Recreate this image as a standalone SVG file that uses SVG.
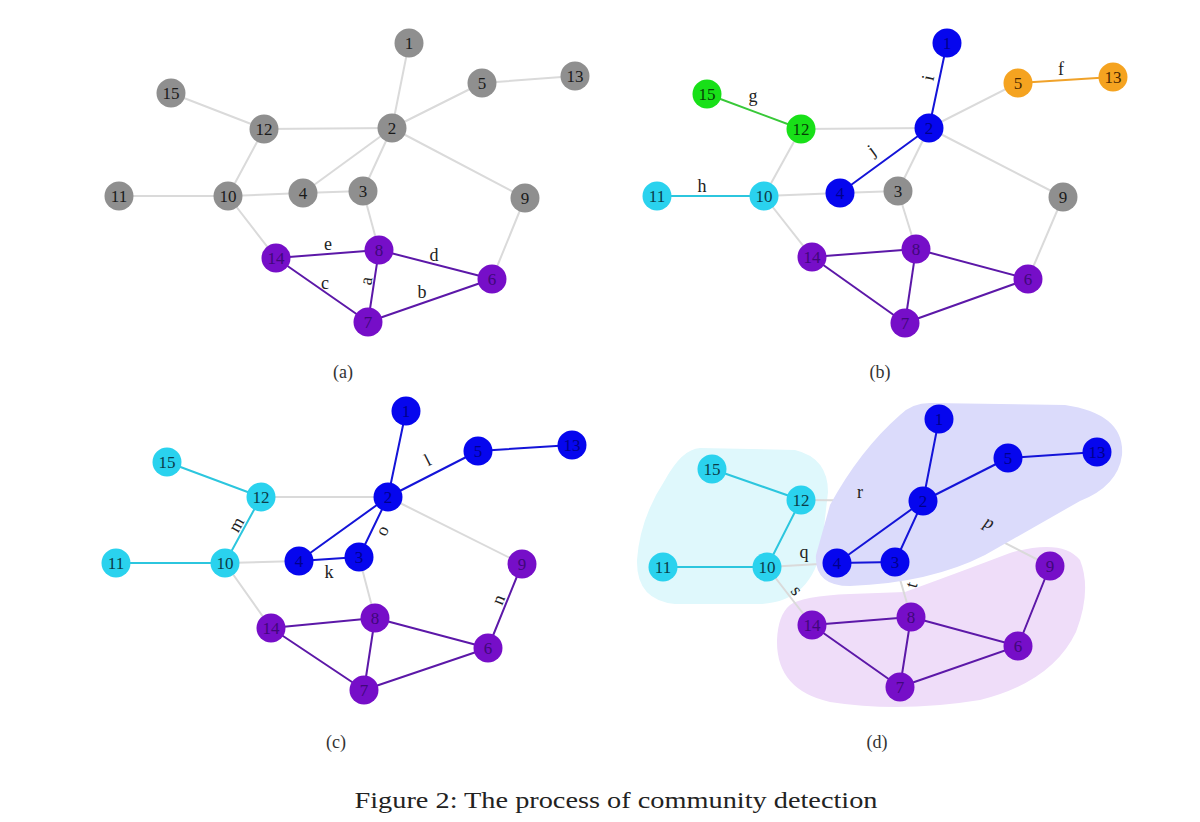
<svg xmlns="http://www.w3.org/2000/svg" width="1200" height="822" viewBox="0 0 1200 822">
<style>
text{font-family:"Liberation Serif","DejaVu Serif",serif}
.e{stroke-width:2;fill:none;stroke-linecap:round}
.gr{stroke:#dadada}
.pu{stroke:#5c18a8}
.bl{stroke:#1414d8}
.cy{stroke:#2cc6de}
.gn{stroke:#38c838}
.or{stroke:#f0a22a}
.n circle{stroke:none}
.n text{font-size:17px;text-anchor:middle}
.g circle{fill:#8f8f8f}.g text{fill:#1a1a1a}
.p circle{fill:#760ec8}.p text{fill:#40087a}
.b circle{fill:#0606ee}.b text{fill:#00008c}
.c circle{fill:#2ad2ee}.c text{fill:#0b3d4a}
.G circle{fill:#18e018}.G text{fill:#064006}
.o circle{fill:#f5a320}.o text{fill:#4a2800}
.lb{font-size:18px;fill:#222;text-anchor:middle}
.cap{font-size:18px;fill:#333;text-anchor:middle}
</style>

<g id="hulls">
<path id="hull-cyan" d="M700,448 L795,450 Q828,458 828,492 L822,545 Q812,602 760,604 L675,604 Q636,600 637,560 Q640,518 665,480 Q682,449 700,448 Z" fill="#dff8fc"/>
<path id="hull-purple" d="M790,605 Q802,596 850,594 L905,592 Q960,572 1010,553 Q1062,538 1080,560 Q1092,590 1076,632 Q1052,682 980,700 Q900,713 830,702 Q776,690 777,640 Q778,615 790,605 Z" fill="#efddf9"/>
</g>

<g id="connectors-a">
<line class="e gr" x1="409" y1="43" x2="392" y2="128"/>
<line class="e gr" x1="392" y1="128" x2="482" y2="83"/>
<line class="e gr" x1="482" y1="83" x2="575" y2="76"/>
<line class="e gr" x1="171" y1="93" x2="264" y2="129"/>
<line class="e gr" x1="264" y1="129" x2="392" y2="128"/>
<line class="e gr" x1="264" y1="129" x2="228" y2="196"/>
<line class="e gr" x1="119" y1="196" x2="228" y2="196"/>
<line class="e gr" x1="228" y1="196" x2="303" y2="193"/>
<line class="e gr" x1="303" y1="193" x2="392" y2="128"/>
<line class="e gr" x1="303" y1="193" x2="363" y2="191"/>
<line class="e gr" x1="363" y1="191" x2="392" y2="128"/>
<line class="e gr" x1="392" y1="128" x2="525" y2="198"/>
<line class="e gr" x1="363" y1="191" x2="379" y2="250"/>
<line class="e gr" x1="228" y1="196" x2="276" y2="258"/>
<line class="e gr" x1="525" y1="198" x2="492" y2="279"/>
<line class="e pu" x1="276" y1="258" x2="379" y2="250"/>
<line class="e pu" x1="379" y1="250" x2="492" y2="279"/>
<line class="e pu" x1="492" y1="279" x2="368" y2="322"/>
<line class="e pu" x1="368" y1="322" x2="379" y2="250"/>
<line class="e pu" x1="276" y1="258" x2="368" y2="322"/>
<text class="lb" x="328" y="250">e</text>
<text class="lb" x="434" y="261">d</text>
<text class="lb" x="325" y="289">c</text>
<text class="lb" x="422" y="298">b</text>
<text class="lb" transform="translate(367,281) rotate(-81)" y="5">a</text>
</g>

<g id="connectors-b">
<line class="e gr" x1="929" y1="128" x2="1018" y2="83"/>
<line class="e gr" x1="801" y1="129" x2="929" y2="128"/>
<line class="e gr" x1="801" y1="129" x2="764" y2="196"/>
<line class="e gr" x1="764" y1="196" x2="840" y2="193"/>
<line class="e gr" x1="840" y1="193" x2="898" y2="191"/>
<line class="e gr" x1="898" y1="191" x2="929" y2="128"/>
<line class="e gr" x1="929" y1="128" x2="1063" y2="197"/>
<line class="e gr" x1="898" y1="191" x2="916" y2="249"/>
<line class="e gr" x1="764" y1="196" x2="812" y2="257"/>
<line class="e gr" x1="1063" y1="197" x2="1028" y2="279"/>
<line class="e bl" x1="947" y1="43" x2="929" y2="128"/>
<line class="e bl" x1="840" y1="193" x2="929" y2="128"/>
<line class="e gn" x1="707" y1="94" x2="801" y2="129"/>
<line class="e cy" x1="657" y1="196" x2="764" y2="196"/>
<line class="e or" x1="1018" y1="83" x2="1113" y2="77"/>
<line class="e pu" x1="812" y1="257" x2="916" y2="249"/>
<line class="e pu" x1="916" y1="249" x2="1028" y2="279"/>
<line class="e pu" x1="1028" y1="279" x2="905" y2="323"/>
<line class="e pu" x1="905" y1="323" x2="916" y2="249"/>
<line class="e pu" x1="812" y1="257" x2="905" y2="323"/>
<text class="lb" x="753" y="102">g</text>
<text class="lb" x="702" y="192">h</text>
<text class="lb" x="1061" y="75">f</text>
<text class="lb" transform="translate(872,151) rotate(-36)" y="5">j</text>
<text class="lb" transform="translate(929,78) rotate(-78)" y="5">i</text>
</g>

<g id="connectors-c">
<line class="e gr" x1="261" y1="497" x2="388" y2="497"/>
<line class="e gr" x1="225" y1="563" x2="299" y2="561"/>
<line class="e gr" x1="388" y1="497" x2="522" y2="564"/>
<line class="e gr" x1="359" y1="557" x2="375" y2="618"/>
<line class="e gr" x1="225" y1="563" x2="271" y2="628"/>
<line class="e bl" x1="406" y1="411" x2="388" y2="497"/>
<line class="e bl" x1="388" y1="497" x2="478" y2="451"/>
<line class="e bl" x1="478" y1="451" x2="572" y2="445"/>
<line class="e bl" x1="299" y1="561" x2="388" y2="497"/>
<line class="e bl" x1="299" y1="561" x2="359" y2="557"/>
<line class="e bl" x1="359" y1="557" x2="388" y2="497"/>
<line class="e cy" x1="167" y1="462" x2="261" y2="497"/>
<line class="e cy" x1="261" y1="497" x2="225" y2="563"/>
<line class="e cy" x1="116" y1="563" x2="225" y2="563"/>
<line class="e pu" x1="522" y1="564" x2="488" y2="648"/>
<line class="e pu" x1="271" y1="628" x2="375" y2="618"/>
<line class="e pu" x1="375" y1="618" x2="488" y2="648"/>
<line class="e pu" x1="488" y1="648" x2="364" y2="690"/>
<line class="e pu" x1="364" y1="690" x2="375" y2="618"/>
<line class="e pu" x1="271" y1="628" x2="364" y2="690"/>
<text class="lb" x="329" y="578">k</text>
<text class="lb" transform="translate(237,525) rotate(-61)" y="5">m</text>
<text class="lb" transform="translate(428,461) rotate(-27)" y="5">l</text>
<text class="lb" transform="translate(383,531) rotate(-64)" y="5">o</text>
<text class="lb" transform="translate(499,600) rotate(-68)" y="5">n</text>
</g>

<g id="connectors-d">
<line class="e gr" x1="801" y1="500" x2="923" y2="501"/>
<line class="e gr" x1="767" y1="567" x2="837" y2="563"/>
<line class="e gr" x1="895" y1="562" x2="911" y2="617"/>
<line class="e gr" x1="767" y1="567" x2="812" y2="625"/>
<line class="e gr" x1="923" y1="501" x2="1050" y2="566"/>
</g>

<path id="hull-blue" d="M930,403 L1065,405 Q1125,414 1122,455 Q1118,486 1080,501 L985,555 Q930,583 850,586 Q814,586 816,555 L830,505 Q860,450 900,415 Q912,403 930,403 Z" fill="#dbdbfb"/>

<g id="connectors-d2">
<line class="e bl" x1="939" y1="419" x2="923" y2="501"/>
<line class="e bl" x1="923" y1="501" x2="1008" y2="458"/>
<line class="e bl" x1="1008" y1="458" x2="1097" y2="452"/>
<line class="e bl" x1="837" y1="563" x2="923" y2="501"/>
<line class="e bl" x1="837" y1="563" x2="895" y2="562"/>
<line class="e bl" x1="895" y1="562" x2="923" y2="501"/>
<line class="e cy" x1="712" y1="469" x2="801" y2="500"/>
<line class="e cy" x1="801" y1="500" x2="767" y2="567"/>
<line class="e cy" x1="663" y1="567" x2="767" y2="567"/>
<line class="e pu" x1="1050" y1="566" x2="1018" y2="646"/>
<line class="e pu" x1="812" y1="625" x2="911" y2="617"/>
<line class="e pu" x1="911" y1="617" x2="1018" y2="646"/>
<line class="e pu" x1="1018" y1="646" x2="900" y2="687"/>
<line class="e pu" x1="900" y1="687" x2="911" y2="617"/>
<line class="e pu" x1="812" y1="625" x2="900" y2="687"/>
<text class="lb" x="860" y="498">r</text>
<text class="lb" x="804" y="558">q</text>
<text class="lb" transform="translate(796,591) rotate(52)" y="5">s</text>
<text class="lb" transform="translate(912,585) rotate(-75)" y="5">t</text>
<text class="lb" transform="translate(989,523) rotate(25)" y="5" font-style="italic">p</text>
</g>

<g id="a-n1" class="n g"><circle cx="409" cy="43" r="14.5"/><text x="409" y="49">1</text></g>
<g id="a-n2" class="n g"><circle cx="392" cy="128" r="14.5"/><text x="392" y="134">2</text></g>
<g id="a-n5" class="n g"><circle cx="482" cy="83" r="14.5"/><text x="482" y="89">5</text></g>
<g id="a-n13" class="n g"><circle cx="575" cy="76" r="14.5"/><text x="575" y="82">13</text></g>
<g id="a-n15" class="n g"><circle cx="171" cy="93" r="14.5"/><text x="171" y="99">15</text></g>
<g id="a-n12" class="n g"><circle cx="264" cy="129" r="14.5"/><text x="264" y="135">12</text></g>
<g id="a-n11" class="n g"><circle cx="119" cy="196" r="14.5"/><text x="119" y="202">11</text></g>
<g id="a-n10" class="n g"><circle cx="228" cy="196" r="14.5"/><text x="228" y="202">10</text></g>
<g id="a-n4" class="n g"><circle cx="303" cy="193" r="14.5"/><text x="303" y="199">4</text></g>
<g id="a-n3" class="n g"><circle cx="363" cy="191" r="14.5"/><text x="363" y="197">3</text></g>
<g id="a-n9" class="n g"><circle cx="525" cy="198" r="14.5"/><text x="525" y="204">9</text></g>
<g id="a-n14" class="n p"><circle cx="276" cy="258" r="14.5"/><text x="276" y="264">14</text></g>
<g id="a-n8" class="n p"><circle cx="379" cy="250" r="14.5"/><text x="379" y="256">8</text></g>
<g id="a-n6" class="n p"><circle cx="492" cy="279" r="14.5"/><text x="492" y="285">6</text></g>
<g id="a-n7" class="n p"><circle cx="368" cy="322" r="14.5"/><text x="368" y="328">7</text></g>

<g id="b-n1" class="n b"><circle cx="947" cy="43" r="14.5"/><text x="947" y="49">1</text></g>
<g id="b-n2" class="n b"><circle cx="929" cy="128" r="14.5"/><text x="929" y="134">2</text></g>
<g id="b-n5" class="n o"><circle cx="1018" cy="83" r="14.5"/><text x="1018" y="89">5</text></g>
<g id="b-n13" class="n o"><circle cx="1113" cy="77" r="14.5"/><text x="1113" y="83">13</text></g>
<g id="b-n15" class="n G"><circle cx="707" cy="94" r="14.5"/><text x="707" y="100">15</text></g>
<g id="b-n12" class="n G"><circle cx="801" cy="129" r="14.5"/><text x="801" y="135">12</text></g>
<g id="b-n11" class="n c"><circle cx="657" cy="196" r="14.5"/><text x="657" y="202">11</text></g>
<g id="b-n10" class="n c"><circle cx="764" cy="196" r="14.5"/><text x="764" y="202">10</text></g>
<g id="b-n4" class="n b"><circle cx="840" cy="193" r="14.5"/><text x="840" y="199">4</text></g>
<g id="b-n3" class="n g"><circle cx="898" cy="191" r="14.5"/><text x="898" y="197">3</text></g>
<g id="b-n9" class="n g"><circle cx="1063" cy="197" r="14.5"/><text x="1063" y="203">9</text></g>
<g id="b-n14" class="n p"><circle cx="812" cy="257" r="14.5"/><text x="812" y="263">14</text></g>
<g id="b-n8" class="n p"><circle cx="916" cy="249" r="14.5"/><text x="916" y="255">8</text></g>
<g id="b-n6" class="n p"><circle cx="1028" cy="279" r="14.5"/><text x="1028" y="285">6</text></g>
<g id="b-n7" class="n p"><circle cx="905" cy="323" r="14.5"/><text x="905" y="329">7</text></g>

<g id="c-n1" class="n b"><circle cx="406" cy="411" r="14.5"/><text x="406" y="417">1</text></g>
<g id="c-n2" class="n b"><circle cx="388" cy="497" r="14.5"/><text x="388" y="503">2</text></g>
<g id="c-n5" class="n b"><circle cx="478" cy="451" r="14.5"/><text x="478" y="457">5</text></g>
<g id="c-n13" class="n b"><circle cx="572" cy="445" r="14.5"/><text x="572" y="451">13</text></g>
<g id="c-n15" class="n c"><circle cx="167" cy="462" r="14.5"/><text x="167" y="468">15</text></g>
<g id="c-n12" class="n c"><circle cx="261" cy="497" r="14.5"/><text x="261" y="503">12</text></g>
<g id="c-n11" class="n c"><circle cx="116" cy="563" r="14.5"/><text x="116" y="569">11</text></g>
<g id="c-n10" class="n c"><circle cx="225" cy="563" r="14.5"/><text x="225" y="569">10</text></g>
<g id="c-n4" class="n b"><circle cx="299" cy="561" r="14.5"/><text x="299" y="567">4</text></g>
<g id="c-n3" class="n b"><circle cx="359" cy="557" r="14.5"/><text x="359" y="563">3</text></g>
<g id="c-n9" class="n p"><circle cx="522" cy="564" r="14.5"/><text x="522" y="570">9</text></g>
<g id="c-n14" class="n p"><circle cx="271" cy="628" r="14.5"/><text x="271" y="634">14</text></g>
<g id="c-n8" class="n p"><circle cx="375" cy="618" r="14.5"/><text x="375" y="624">8</text></g>
<g id="c-n6" class="n p"><circle cx="488" cy="648" r="14.5"/><text x="488" y="654">6</text></g>
<g id="c-n7" class="n p"><circle cx="364" cy="690" r="14.5"/><text x="364" y="696">7</text></g>

<g id="d-n1" class="n b"><circle cx="939" cy="419" r="14.5"/><text x="939" y="425">1</text></g>
<g id="d-n2" class="n b"><circle cx="923" cy="501" r="14.5"/><text x="923" y="507">2</text></g>
<g id="d-n5" class="n b"><circle cx="1008" cy="458" r="14.5"/><text x="1008" y="464">5</text></g>
<g id="d-n13" class="n b"><circle cx="1097" cy="452" r="14.5"/><text x="1097" y="458">13</text></g>
<g id="d-n15" class="n c"><circle cx="712" cy="469" r="14.5"/><text x="712" y="475">15</text></g>
<g id="d-n12" class="n c"><circle cx="801" cy="500" r="14.5"/><text x="801" y="506">12</text></g>
<g id="d-n11" class="n c"><circle cx="663" cy="567" r="14.5"/><text x="663" y="573">11</text></g>
<g id="d-n10" class="n c"><circle cx="767" cy="567" r="14.5"/><text x="767" y="573">10</text></g>
<g id="d-n4" class="n b"><circle cx="837" cy="563" r="14.5"/><text x="837" y="569">4</text></g>
<g id="d-n3" class="n b"><circle cx="895" cy="562" r="14.5"/><text x="895" y="568">3</text></g>
<g id="d-n9" class="n p"><circle cx="1050" cy="566" r="14.5"/><text x="1050" y="572">9</text></g>
<g id="d-n14" class="n p"><circle cx="812" cy="625" r="14.5"/><text x="812" y="631">14</text></g>
<g id="d-n8" class="n p"><circle cx="911" cy="617" r="14.5"/><text x="911" y="623">8</text></g>
<g id="d-n6" class="n p"><circle cx="1018" cy="646" r="14.5"/><text x="1018" y="652">6</text></g>
<g id="d-n7" class="n p"><circle cx="900" cy="687" r="14.5"/><text x="900" y="693">7</text></g>

<g id="captions">
<text class="cap" x="343" y="378">(a)</text>
<text class="cap" x="880" y="378">(b)</text>
<text class="cap" x="336" y="748">(c)</text>
<text class="cap" x="877" y="748">(d)</text>
<text x="616" y="808" font-size="23" fill="#222" text-anchor="middle" textLength="523" lengthAdjust="spacingAndGlyphs">Figure 2: The process of community detection</text>
</g>
</svg>
